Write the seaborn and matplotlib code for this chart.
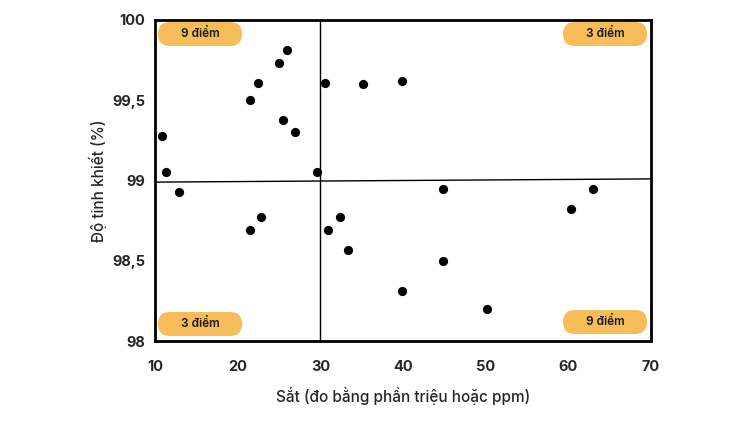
import matplotlib
matplotlib.use("Agg")
import matplotlib.pyplot as plt
from matplotlib.patches import FancyBboxPatch
import seaborn as sns
import pandas as pd

# values
sat_ppm = [10.8, 11.3, 12.95, 21.5, 22.45, 25.0, 25.95, 25.5, 26.9, 29.55,
           21.5, 22.8,
           30.57, 35.1, 39.9,
           44.8, 63.0, 60.3, 32.4, 30.9, 33.35, 44.8, 39.9, 50.2]
do_tinh_khiet = [99.28, 99.05, 98.93, 99.50, 99.61, 99.73, 99.81, 99.38, 99.30, 99.05,
                 98.69, 98.77,
                 99.61, 99.60, 99.62,
                 98.95, 98.95, 98.82, 98.77, 98.69, 98.57, 98.50, 98.31, 98.20]
x_ticks = [10, 20, 30, 40, 50, 60, 70]
y_ticks = [98, 98.5, 99, 99.5, 100]
y_tick_labels = ["98", "98,5", "99", "99,5", "100"]
median_x = 30
median_line_y = [98.99, 99.01]
badge_labels = ["9 điểm", "3 điểm", "3 điểm", "9 điểm"]

df = pd.DataFrame({"sat": sat_ppm, "tinhkhiet": do_tinh_khiet})

sns.set_style("white")
plt.rcParams['font.family'] = ['Inter', 'DejaVu Sans']

fig = plt.figure(figsize=(7.5, 4.21), dpi=100)
ax = fig.add_axes([0.2067, 0.19, 0.6613, 0.7625])

sns.scatterplot(data=df, x="sat", y="tinhkhiet", ax=ax, color="black",
                s=44, edgecolor="black", linewidth=0, zorder=3)

ax.axvline(median_x, color="black", lw=1)
ax.plot([10, 70], median_line_y, color="black", lw=1)

ax.set_xlim(10, 70)
ax.set_ylim(98, 100)
ax.set_xticks(x_ticks)
ax.set_yticks(y_ticks)
ax.set_yticklabels(y_tick_labels)
ax.tick_params(length=0, labelsize=10.5)
for lab in ax.get_xticklabels() + ax.get_yticklabels():
    lab.set_fontweight("bold")
ax.tick_params(axis="x", pad=14)
ax.tick_params(axis="y", pad=7)

ax.set_xlabel("Sắt (đo bằng phần triệu hoặc ppm)", fontsize=11, fontweight="medium", labelpad=9)
ax.set_ylabel("Độ tinh khiết (%)", fontsize=11, fontweight="medium", labelpad=4)

for sp in ax.spines.values():
    sp.set_color("black")
    sp.set_linewidth(2)

# quadrant badges, positions in inches on the figure
badge_pos = [(1.58, 3.75), (5.63, 3.75), (1.58, 0.85), (5.63, 0.87)]
for (bx, by), txt in zip(badge_pos, badge_labels):
    p = FancyBboxPatch((bx, by), 0.84, 0.24, boxstyle="round,pad=0,rounding_size=0.12",
                       transform=fig.dpi_scale_trans, facecolor="#F8BD5B",
                       edgecolor="none", clip_on=False, zorder=4)
    ax.add_patch(p)
    ax.text(bx + 0.42, by + 0.12, txt, transform=fig.dpi_scale_trans,
            ha="center", va="center", fontsize=8.5, fontweight="semibold",
            color="#1a1a1a", zorder=5)

fig.savefig("out.png", dpi=100)
